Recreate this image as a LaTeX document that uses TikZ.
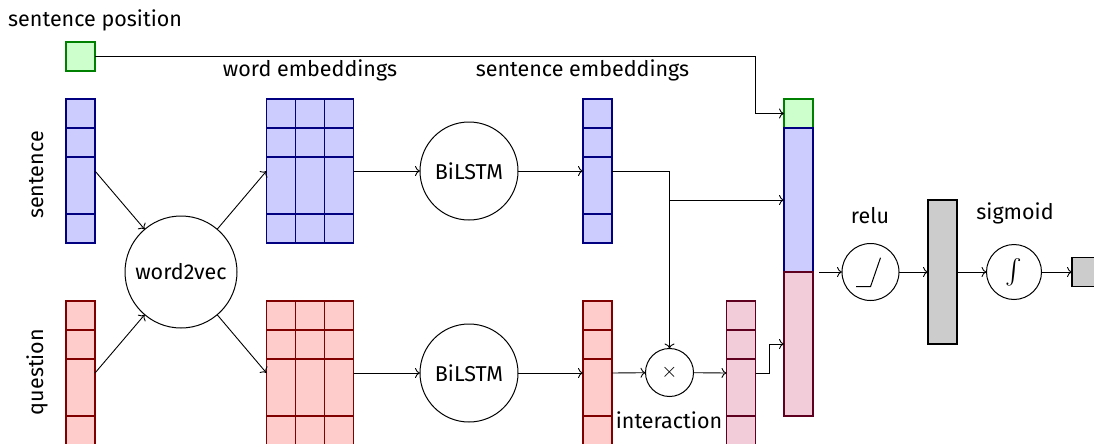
\documentclass[tikz,border=0pt]{standalone}
\usepackage{exscale}
\usepackage{fontspec}
\setmainfont{Fira Sans}
\usetikzlibrary{calc,arrows.meta}
\newcommand{\vecnode}[6]{% name, x, y, ncols, fill, draw
  \node[vbox, fill=#5, draw=#6, minimum width=#4*29pt, minimum height=144pt] (#1) at (#2,#3) {};
  \foreach \dy in {29,58,115}
    \draw[#6, line width=1.2pt] ([yshift=-\dy pt]#1.north west) -- ([yshift=-\dy pt]#1.north east);
  \ifnum#4>1
    \foreach \k in {2,...,#4}
      \draw[#6, line width=1.2pt] ([xshift={(\k-1)*29pt}]#1.north west) -- ([xshift={(\k-1)*29pt}]#1.south west);
  \fi
}
\begin{document}
\begin{tikzpicture}[x=1pt,y=-1pt, font=\fontsize{21.5}{26}\selectfont,
  conn/.style={-{To[length=5pt,width=10pt]}, line width=0.9pt},
  vbox/.style={rectangle, inner sep=0pt, outer sep=0pt, line width=1.2pt},
  op/.style={circle, draw, line width=1pt, inner sep=0pt, outer sep=0pt},
  lbl/.style={inner sep=0pt, anchor=base},
  graybox/.style={vbox, fill=gray!40, draw=black}]
\useasboundingbox (0,0) rectangle (1094,444);
\clip (0,0) rectangle (1094,444);

% inputs
\node[vbox, fill=green!20, draw=green!50!black, minimum width=29pt, minimum height=29pt] (pos) at (80.5,56.5) {};
\vecnode{sv}{80.5}{171}{1}{blue!20}{blue!50!black}
\vecnode{qv}{80.5}{373}{1}{red!20}{red!50!black}

% word embeddings
\node[op, minimum size=112pt] (w2v) at (181,272) {word2vec};
\vecnode{ws}{310}{171}{3}{blue!20}{blue!50!black}
\vecnode{wq}{310}{373}{3}{red!20}{red!50!black}

% BiLSTM
\node[op, minimum size=98pt] (bl1) at (469,171) {BiLSTM};
\node[op, minimum size=98pt] (bl2) at (469,373) {BiLSTM};

% sentence embeddings
\vecnode{ss}{597.5}{171}{1}{blue!20}{blue!50!black}
\vecnode{sq}{597.5}{373}{1}{red!20}{red!50!black}

% interaction
\node[op, minimum size=48pt] (mul) at (669.5,372.5) {\fontsize{22}{26}\selectfont$\times$};
\vecnode{iv}{741}{373}{1}{purple!20}{purple!50!black}

% concatenation
\node[vbox, fill=green!20, draw=green!50!black, minimum width=29pt, minimum height=29pt] (cg) at (798.5,113.5) {};
\node[vbox, fill=blue!20, draw=blue!50!black, minimum width=29pt, minimum height=144pt] (cb) at (798.5,200) {};
\node[vbox, fill=purple!20, draw=purple!50!black, minimum width=29pt, minimum height=144pt] (cp) at (798.5,344) {};

% output part
\node[op, minimum size=57pt] (relu) at (870.5,272) {};
\draw[line width=1pt] (relu.center) ++(-14.5,14.7) -- ++(14.5,0) -- ++(10,-29);
\node[graybox, minimum width=29pt, minimum height=144pt] (hid) at (942.5,272) {};
\node[op, minimum size=55pt] (sig) at (1014,272) {\fontsize{24}{28}\selectfont$\int$};
\node[graybox, minimum width=29pt, minimum height=29pt] (out) at (1086.5,272) {};

% labels
\node[lbl, anchor=base west] (tpos) at (8,27) {sentence position};
\node[lbl] (twe) at (310,76) {word embeddings};
\node[lbl] (tse) at (582.5,76) {sentence embeddings};
\node[lbl, rotate=90] (tsent) at (43,175) {sentence};
\node[lbl, rotate=90] (tq) at (43,372) {question};
\node[lbl] (tint) at (669,428) {interaction};
\node[lbl] (trelu) at (870,223) {relu};
\node[lbl] (tsig) at (1015,219) {sigmoid};

% connectors
\draw[conn] (pos.east) -| ([xshift=-29pt]cg.west) -- (cg.west);
\draw[conn] (sv.east) -- (w2v);
\draw[conn] (qv.east) -- (w2v);
\draw[conn] (w2v) -- (ws.west);
\draw[conn] (w2v) -- (wq.west);
\draw[conn] (ws.east) -- (bl1);
\draw[conn] (wq.east) -- (bl2);
\draw[conn] (bl1) -- (ss.west);
\draw[conn] (bl2) -- (sq.west);
\draw[conn] (ss.east) -| (mul.north);
\draw[conn] (mul.north |- cb.west) -- (cb.west);
\draw[conn] (sq.east) -- (mul);
\draw[conn] (mul) -- (iv.west);
\draw[conn] (iv.east) -- ++(14,0) |- (cp.west);
\draw[conn] ([xshift=6pt]cb.south east) -- (relu);
\draw[conn] (relu) -- (hid.west);
\draw[conn] (hid.east) -- (sig);
\draw[conn] (sig) -- (out.west);
\end{tikzpicture}
\end{document}
